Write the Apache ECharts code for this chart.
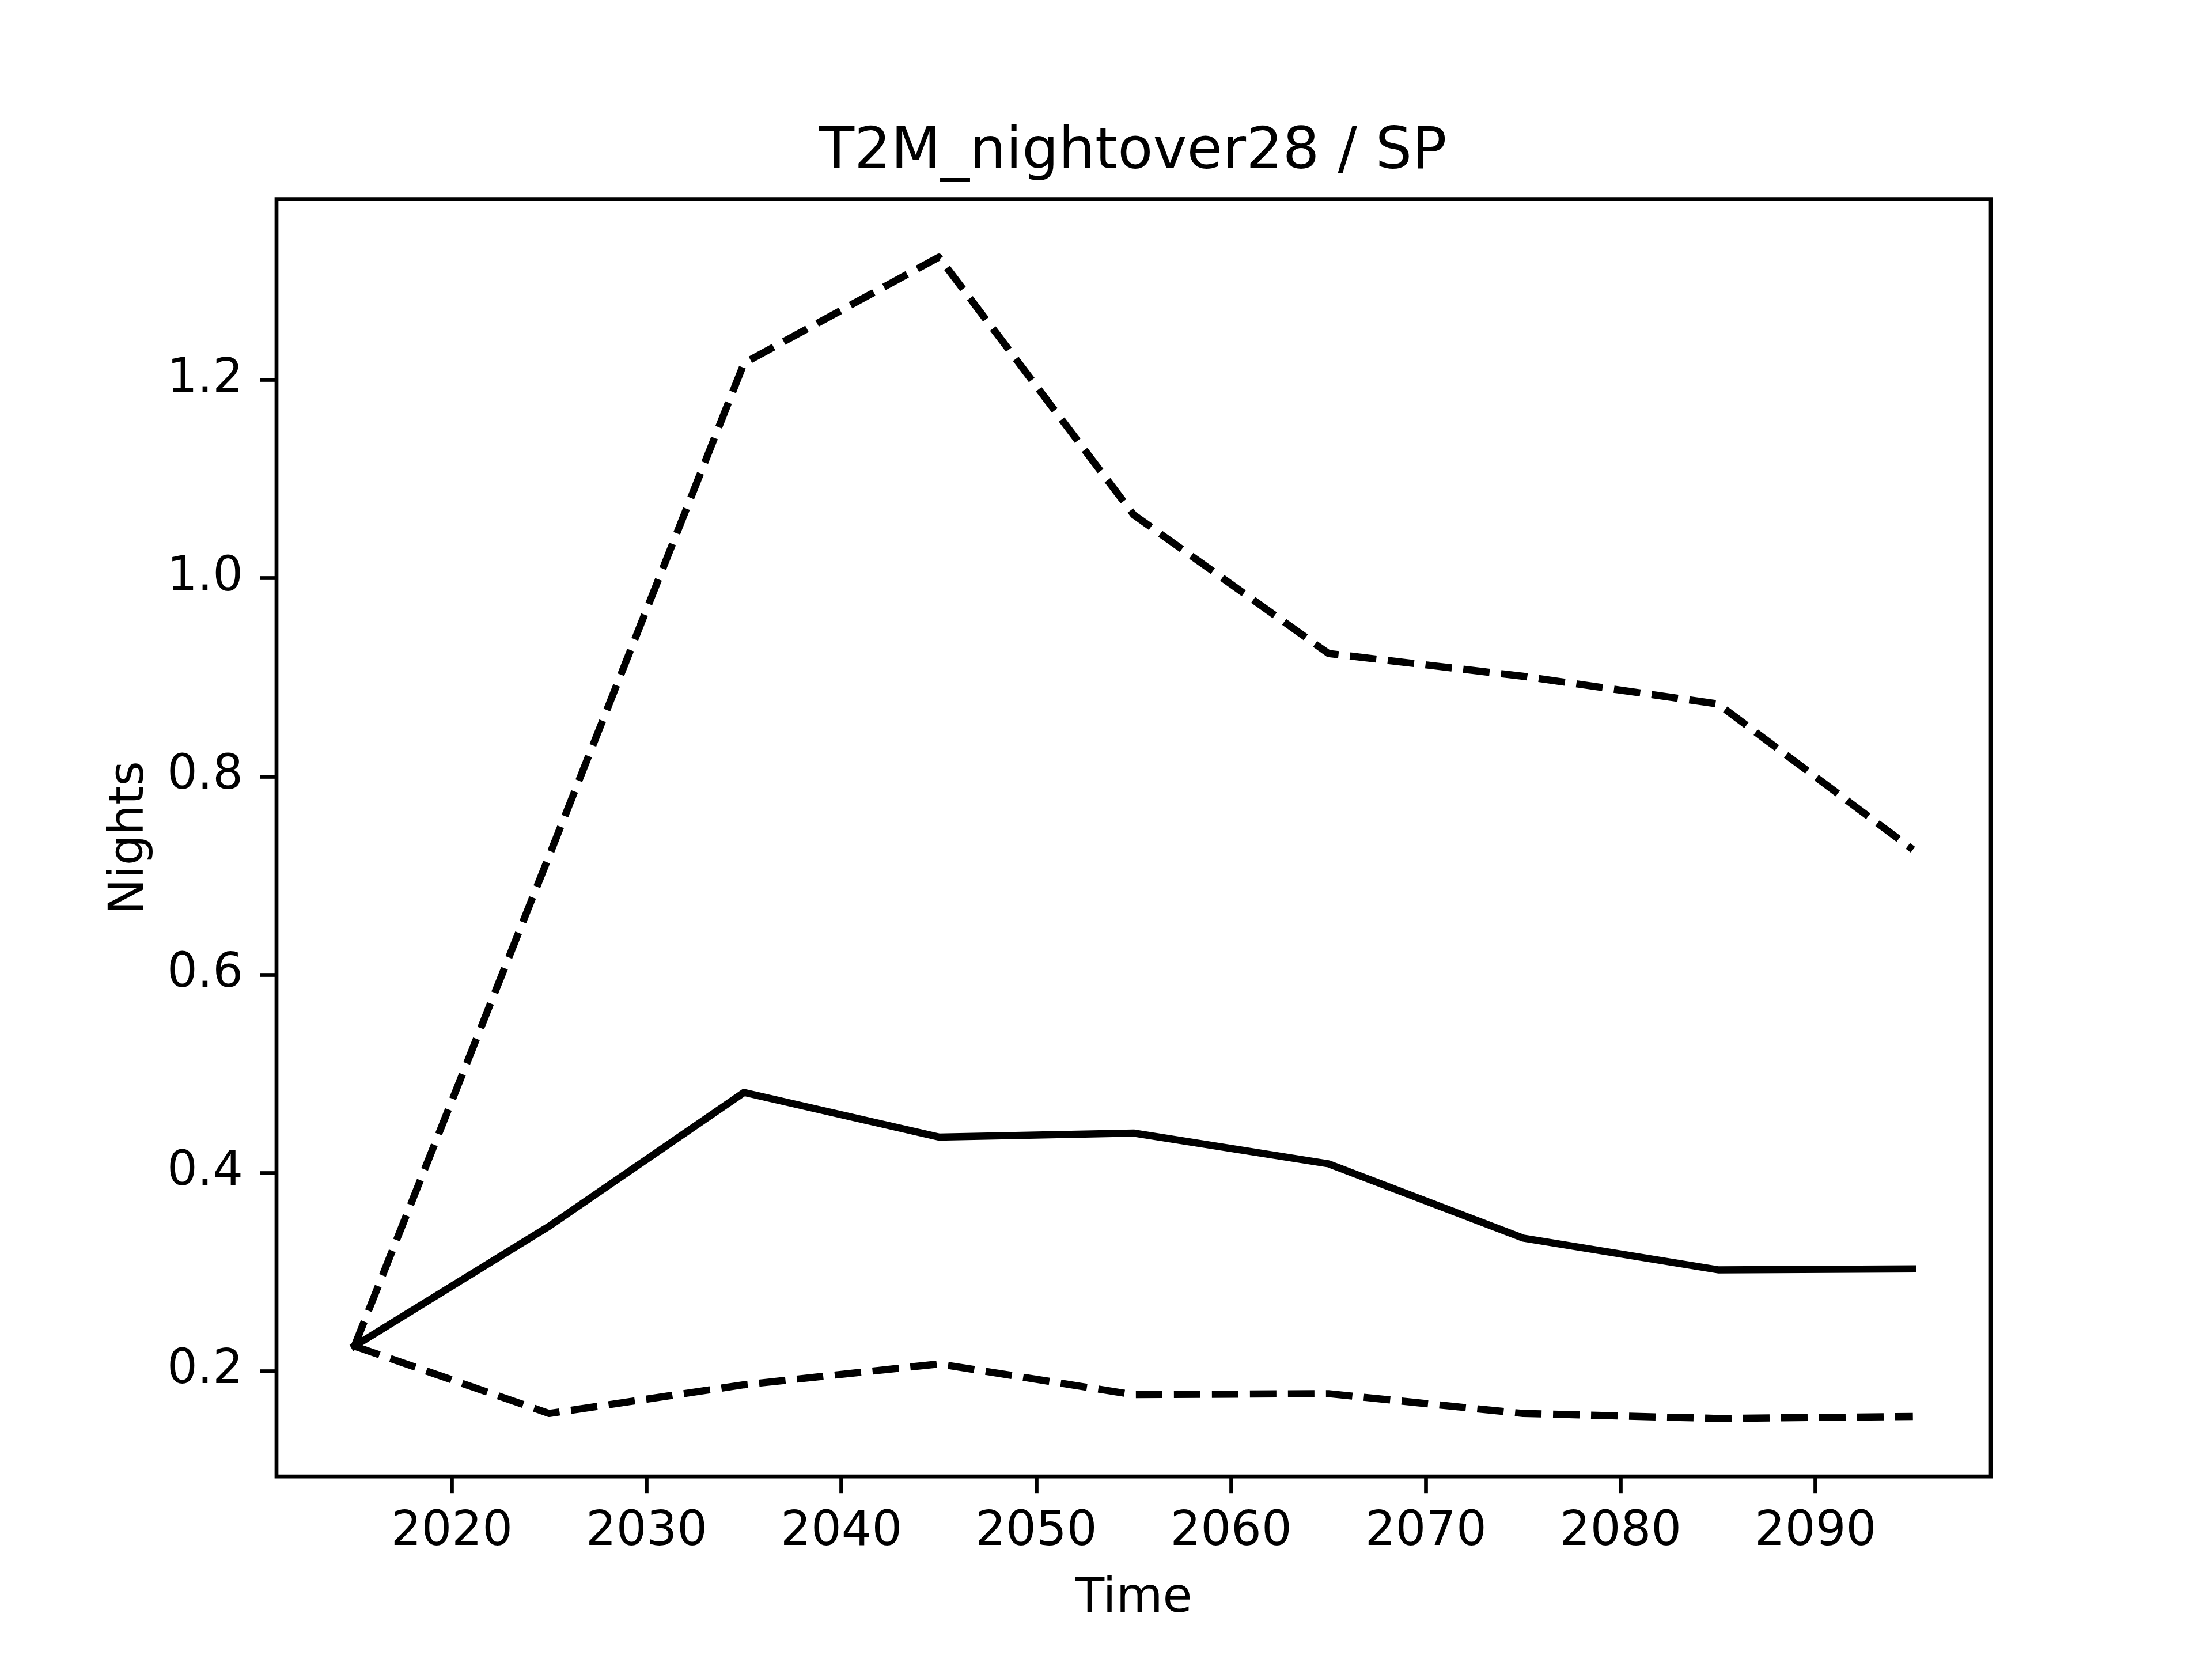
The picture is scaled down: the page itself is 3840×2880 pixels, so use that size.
<!DOCTYPE html>
<html>
<head>
<meta charset="utf-8">
<script src="https://cdn.jsdelivr.net/npm/echarts@6/dist/echarts.min.js"></script>
<style>
html,body{margin:0;padding:0;background:#fff;}
#chart{width:3840px;height:2880px;}
</style>
</head>
<body>
<div id="chart"></div>
<script>
const years = [2015, 2025, 2035, 2045, 2055, 2065, 2075, 2085, 2095];
const upperValues = [0.225, 0.72, 1.217, 1.324, 1.064, 0.924, 0.901, 0.873, 0.726];
const medianValues = [0.225, 0.346, 0.481, 0.436, 0.440, 0.409, 0.334, 0.302, 0.303];
const lowerValues = [0.225, 0.157, 0.186, 0.207, 0.176, 0.177, 0.157, 0.152, 0.154];
const xTicks = [2020, 2030, 2040, 2050, 2060, 2070, 2080, 2090];
const yTicks = [0.2, 0.4, 0.6, 0.8, 1.0, 1.2];
const titleText = 'T2M_nightover28 / SP';
const xName = 'Time';
const yName = 'Nights';

const FONT = 'DejaVu Sans';
// matplotlib-like 5% auto margins
const xMinD = Math.min(...years), xMaxD = Math.max(...years);
const xPad = (xMaxD - xMinD) * 0.05;
const allY = upperValues.concat(medianValues, lowerValues);
const yMinD = Math.min(...allY), yMaxD = Math.max(...allY);
const yPad = (yMaxD - yMinD) * 0.05;

const toPairs = (vals) => years.map((y, i) => [y, vals[i]]);
const lw = 12.5;
const dash = [46, 20];

const chart = echarts.init(document.getElementById('chart'), null, {renderer: 'canvas', width: 3840, height: 2880});
chart.setOption({
  animation: false,
  backgroundColor: '#ffffff',
  title: {
    text: titleText,
    left: 1422,
    top: 216,
    padding: 0,
    textStyle: {fontFamily: FONT, fontSize: 100, fontWeight: 'normal', color: '#000'}
  },
  grid: {
    left: 480, right: 384, top: 345.6, bottom: 316.8,
    containLabel: false,
    outerBoundsMode: 'none',
    show: true,
    borderColor: '#000',
    borderWidth: 6.7,
    backgroundColor: 'transparent'
  },
  xAxis: {
    type: 'value',
    min: xMinD - xPad,
    max: xMaxD + xPad,
    name: xName,
    nameLocation: 'middle',
    nameGap: 172,
    nameTextStyle: {fontFamily: FONT, fontSize: 83, color: '#000'},
    axisLine: {show: false},
    splitLine: {show: false},
    axisTick: {show: true, inside: false, length: 29, customValues: xTicks, lineStyle: {color: '#000', width: 6.7}},
    axisLabel: {show: true, margin: 56, customValues: xTicks, fontFamily: FONT, fontSize: 83, color: '#000',
      formatter: (v) => String(v)}
  },
  yAxis: {
    type: 'value',
    min: yMinD - yPad,
    max: yMaxD + yPad,
    name: yName,
    nameLocation: 'middle',
    nameRotate: 90,
    nameGap: 212,
    nameTextStyle: {fontFamily: FONT, fontSize: 83, color: '#000'},
    axisLine: {show: false},
    splitLine: {show: false},
    axisTick: {show: true, inside: false, length: 29, customValues: yTicks, lineStyle: {color: '#000', width: 6.7}},
    axisLabel: {show: true, margin: 58, customValues: yTicks, fontFamily: FONT, fontSize: 83, color: '#000',
      formatter: (v) => Number(v).toFixed(1)}
  },
  series: [
    {type: 'line', name: 'upper', data: toPairs(upperValues), symbol: 'none', silent: true,
      lineStyle: {color: '#000', width: lw, type: dash, cap: 'butt', join: 'round'}},
    {type: 'line', name: 'median', data: toPairs(medianValues), symbol: 'none', silent: true,
      lineStyle: {color: '#000', width: lw, type: 'solid', cap: 'square', join: 'round'}},
    {type: 'line', name: 'lower', data: toPairs(lowerValues), symbol: 'none', silent: true,
      lineStyle: {color: '#000', width: lw, type: dash, cap: 'butt', join: 'round'}}
  ]
});
</script>
</body>
</html>
